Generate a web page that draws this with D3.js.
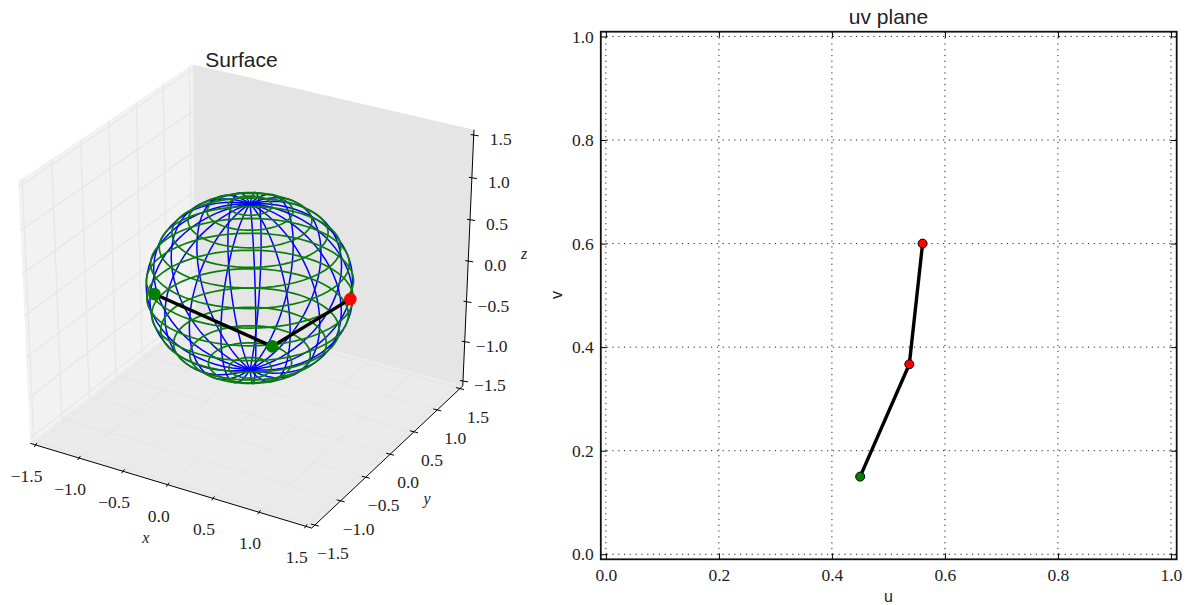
<!DOCTYPE html>
<html><head><meta charset="utf-8">
<script src="https://cdn.jsdelivr.net/npm/d3@7"></script>
<style>html,body{margin:0;background:#fff}svg{display:block}
text{fill:#222}.serif{font-family:"Liberation Serif",serif;font-size:17.5px}
.sans{font-family:"Liberation Sans",sans-serif}</style></head>
<body><svg id="c" width="1194" height="605"></svg>
<script>
const ticks3d=[-1.5,-1,-0.5,0,0.5,1,1.5];
const ticks2d=[0,0.2,0.4,0.6,0.8,1];
const ringColat=[12,24,36,48,60,72,84,96,108,120,132,144,156,168];
const meridianStep=360/19;
const meridianIdx=[0,1,2,3,4,5,6,7,8,9,10,11,12,13,14,15,16,17,18];
const pathPts3d=[[-0.615,-0.753,0.127],[0.66,-0.727,-0.133],[0.969,0.236,0.029]];
const pathColors3d=["#008000","#008000","#ff0000"];
const u2=[0.45,0.537,0.5605];
const v2=[0.15,0.367,0.6];
const colors2=["#008000","#ff0000","#ff0000"];

const svg=d3.select("#c");
const lim=1.5;
const cube=d3.scaleLinear().domain([-lim,lim]).range([-0.5,0.5]);
const el=30*Math.PI/180, az=-60*Math.PI/180;
const n=[Math.cos(el)*Math.cos(az),Math.sin(az)*Math.cos(el),Math.sin(el)];
const uu=[-Math.sin(az),Math.cos(az),0];
const vv=[n[1]*uu[2]-n[2]*uu[1],n[2]*uu[0]-n[0]*uu[2],n[0]*uu[1]-n[1]*uu[0]];
const dot=(a,b)=>a[0]*b[0]+a[1]*b[1]+a[2]*b[2];
const sx=d3.scaleLinear().domain([0,0.1]).range([250,250+311.8]);
const sy=d3.scaleLinear().domain([0,0.1]).range([288,288-287]);
function P(p){const d=p.map(cube);const w=10-dot(n,d);return [sx(dot(uu,d)/w),sy(dot(vv,d)/w)];}
const line=d3.line();
const pad=lim*(1+1/24);
const a=-pad,b=pad;
const g3=svg.append("g");
const panes=[
 {c:"#f2f2f2",pts:[[a,a,a],[a,b,a],[a,b,b],[a,a,b]]},
 {c:"#e5e5e5",pts:[[a,b,a],[b,b,a],[b,b,b],[a,b,b]]},
 {c:"#ebebeb",pts:[[a,a,a],[b,a,a],[b,b,a],[a,b,a]]}];
g3.selectAll(".pane").data(panes).join("path").attr("d",d=>line(d.pts.map(P))+"Z").attr("fill",d=>d.c);
const gridC="#e6e6e6";
const gl=(pts)=>g3.append("path").attr("d",line(pts.map(P))).attr("fill","none").attr("stroke",gridC).attr("stroke-width",1.2);
ticks3d.forEach(t=>{
 gl([[t,a,a],[t,b,a],[t,b,b]]);
 gl([[b,t,a],[a,t,a],[a,t,b]]);
 gl([[a,a,t],[a,b,t],[b,b,t]]);
});
const al=(pts)=>g3.append("path").attr("d",line(pts.map(P))).attr("fill","none").attr("stroke","#000").attr("stroke-width",1);
al([[a,a,a],[b,a,a]]);al([[b,a,a],[b,b,a]]);al([[b,b,a],[b,b,b]]);
function tick3(p,d0,d1,label,dx,dy){
 const [x,y]=P(p);
 g3.append("line").attr("x1",x+d0[0]).attr("y1",y+d0[1]).attr("x2",x+d1[0]).attr("y2",y+d1[1]).attr("stroke","#000").attr("stroke-width",1);
 g3.append("text").attr("class","serif").attr("x",x+dx).attr("y",y+dy).attr("text-anchor","middle").text(label);
}
const fmt=t=>(t<0?"\u2212":"")+Math.abs(t).toFixed(1);
ticks3d.forEach(t=>{
 tick3([t,a,a],[-1.4,2],[1.4,-2],fmt(t),-9,37);
 tick3([b,t,a],[-4,-1],[4,1],fmt(t),18,34);
 tick3([b,b,t],[-3,-0.5],[5,0.8],fmt(t),27,10);
});
function axlab(p,dx,dy,s){const [x,y]=P(p);g3.append("text").attr("class","serif").attr("x",x+dx).attr("y",y+dy).attr("text-anchor","middle").style("font-style","italic").style("font-size","16px").text(s);}
axlab([0,a,a],-22,58,"x");axlab([b,0,a],37,50,"y");axlab([b,b,0],56,-2,"z");
const rad=Math.PI/180;
const sph=(colat,azim)=>[Math.sin(colat*rad)*Math.cos(azim*rad),Math.sin(colat*rad)*Math.sin(azim*rad),Math.cos(colat*rad)];
const along=d3.range(0,361,5), alongM=d3.range(0,181,5);
g3.selectAll(".m").data(meridianIdx).join("path").attr("fill","none").attr("stroke","#0000ff").attr("stroke-width",1.5)
 .attr("d",k=>line(alongM.map(c=>P(sph(c,k*meridianStep)))));
g3.selectAll(".r").data(ringColat).join("path").attr("fill","none").attr("stroke","#0a7d0a").attr("stroke-width",1.7)
 .attr("d",c=>line(along.map(m=>P(sph(c,m)))));
g3.append("path").attr("d",line(pathPts3d.map(P))).attr("fill","none").attr("stroke","#000").attr("stroke-width",3.4);
g3.selectAll(".pt").data(pathPts3d).join("circle").attr("cx",d=>P(d)[0]).attr("cy",d=>P(d)[1]).attr("r",6.3).attr("fill",(d,i)=>pathColors3d[i]);
svg.append("text").attr("class","sans").attr("x",241.5).attr("y",67).attr("text-anchor","middle").style("font-size","21px").text("Surface");

const L=600.8,R=1176.7,T=31.7,B=559.3;
const x=d3.scaleLinear().domain([-0.009,1.0102]).range([L,R]);
const y=d3.scaleLinear().domain([-0.0097,1.0092]).range([B,T]);
const g2=svg.append("g");
ticks2d.forEach(t=>{
 g2.append("line").attr("x1",x(t)).attr("x2",x(t)).attr("y1",T).attr("y2",B).attr("stroke","#222").attr("stroke-width",1).attr("stroke-dasharray","1.2 4.6");
 g2.append("line").attr("y1",y(t)).attr("y2",y(t)).attr("x1",L).attr("x2",R).attr("stroke","#222").attr("stroke-width",1).attr("stroke-dasharray","1.2 4.6");
});
function sty(ax){ax.select(".domain").remove();ax.selectAll("line").attr("stroke","#000").attr("stroke-width",1);ax.selectAll("text").attr("class","serif").style("font-size","17.5px").style("fill","#222");}
const tf=d3.format(".1f");
g2.append("g").attr("transform",`translate(0,${B})`).call(d3.axisBottom(x).tickValues(ticks2d).tickFormat(tf).tickSizeInner(-6).tickPadding(9)).call(sty);
g2.append("g").attr("transform",`translate(0,${T})`).call(d3.axisTop(x).tickValues(ticks2d).tickFormat("").tickSizeInner(-6)).call(sty);
g2.append("g").attr("transform",`translate(${L},0)`).call(d3.axisLeft(y).tickValues(ticks2d).tickFormat(tf).tickSizeInner(-6).tickPadding(7)).call(sty);
g2.append("g").attr("transform",`translate(${R},0)`).call(d3.axisRight(y).tickValues(ticks2d).tickFormat("").tickSizeInner(-6)).call(sty);
g2.append("rect").attr("x",L).attr("y",T).attr("width",R-L).attr("height",B-T).attr("fill","none").attr("stroke","#111").attr("stroke-width",1.8);
const pts2=u2.map((u,i)=>[x(u),y(v2[i])]);
g2.append("path").attr("d",line(pts2)).attr("fill","none").attr("stroke","#000").attr("stroke-width",3.4);
g2.selectAll(".p").data(pts2).join("circle").attr("cx",d=>d[0]).attr("cy",d=>d[1]).attr("r",4.5).attr("fill",(d,i)=>colors2[i]).attr("stroke","#000").attr("stroke-width",1);
svg.append("text").attr("class","sans").attr("x",888.5).attr("y",24).attr("text-anchor","middle").style("font-size","21px").text("uv plane");
svg.append("text").attr("class","sans").attr("x",888.5).attr("y",602).attr("text-anchor","middle").style("font-size","16px").text("u");
svg.append("text").attr("class","sans").attr("transform","translate(562,295) rotate(-90)").attr("text-anchor","middle").style("font-size","16px").text("v");
</script></body></html>
